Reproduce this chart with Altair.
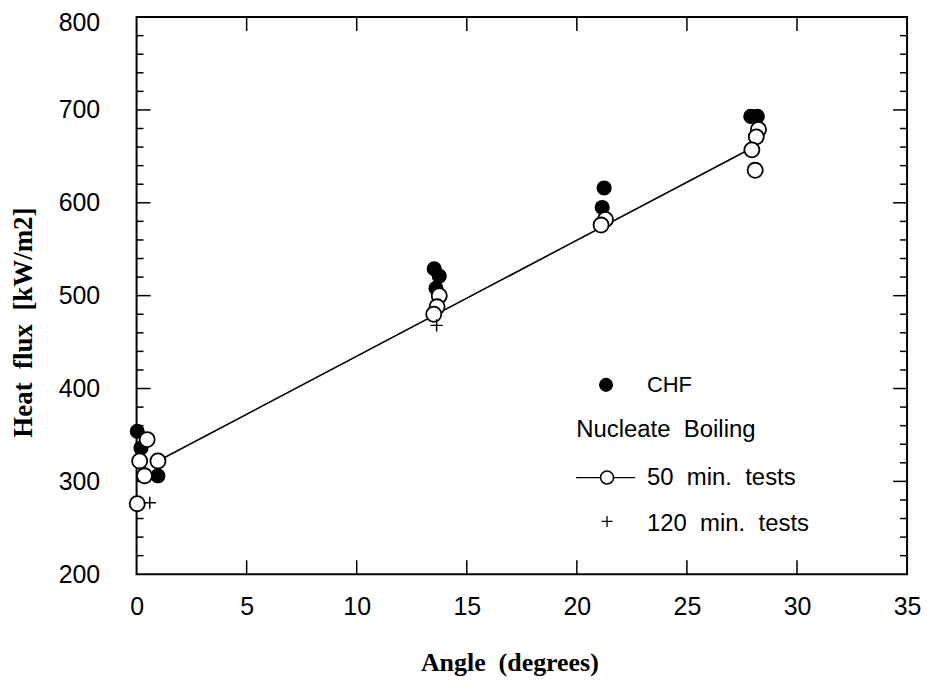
import altair as alt
import pandas as pd

# ---- data ----
chf_x = [0.03, 0.2, 0.97, 13.52, 13.75, 13.6, 21.24, 21.15, 27.9, 28.2]
chf_y = [354, 336, 306, 529, 521, 508, 616, 595, 693, 693]

open_x = [0.48, 0.14, 0.97, 0.36, 0.03, 13.75, 13.65, 13.5, 21.3, 21.1, 28.25, 28.15, 27.95, 28.1]
open_y = [345, 322, 322, 306, 276, 500, 488, 480, 582, 576, 679, 671, 657, 635]

plus_x = [0.6, 13.63]
plus_y = [277, 468]

fit_x = [0.97, 27.95]
fit_y = [322, 659]

x_ticks = [0, 5, 10, 15, 20, 25, 30, 35]
y_ticks = [200, 300, 400, 500, 600, 700, 800]
y_minor = [v for v in range(220, 800, 20) if v % 100 != 0]
y_major = [300, 400, 500, 600, 700]
x_inner = [5, 10, 15, 20, 25, 30]

W, H = 773, 559
LABEL_FONT = "Liberation Sans"
TITLE_FONT = "Liberation Serif"

xs = alt.Scale(domain=[0, 35], nice=False, zero=False)
ys = alt.Scale(domain=[200, 800], nice=False, zero=False)

x_axis = alt.Axis(values=x_ticks, title="Angle\u00a0 (degrees)",
                  titleX=374, titleY=89, titleBaseline="middle", titleAnchor="middle",
                  titleFontSize=26)
y_axis = alt.Axis(values=y_ticks, title="Heat\u00a0 flux\u00a0 [kW/m2]",
                  titleX=-113, titleY=306, titleBaseline="middle", titleAngle=-90,
                  titleAnchor="middle", titleFontSize=27,
                  labelOffset={"condition": {"test": "datum.value == 800", "value": 5}, "value": 0})

df_fit = pd.DataFrame({"x": fit_x, "y": fit_y})
df_chf = pd.DataFrame({"x": chf_x, "y": chf_y})
df_open = pd.DataFrame({"x": open_x, "y": open_y})
df_plus = pd.DataFrame({"x": plus_x, "y": plus_y})

fit = alt.Chart(df_fit).mark_line(color="black", strokeWidth=1.6).encode(
    x=alt.X("x:Q", scale=xs, axis=x_axis),
    y=alt.Y("y:Q", scale=ys, axis=y_axis),
)

chf = alt.Chart(df_chf).mark_point(shape="circle", filled=True, color="black", size=230, opacity=1).encode(
    x=alt.X("x:Q", scale=xs), y=alt.Y("y:Q", scale=ys))

opn = alt.Chart(df_open).mark_point(shape="circle", filled=True, fill="white", stroke="black",
                                     strokeWidth=1.8, size=230, opacity=1).encode(
    x=alt.X("x:Q", scale=xs), y=alt.Y("y:Q", scale=ys))

PLUS = "M-1,0L1,0M0,-1L0,1"
plus = alt.Chart(df_plus).mark_point(shape=PLUS, filled=False, color="black", strokeWidth=1.5,
                                      size=150, opacity=1).encode(
    x=alt.X("x:Q", scale=xs), y=alt.Y("y:Q", scale=ys))

# inward ticks on the frame
df_ymin = pd.DataFrame({"x": 0, "y": y_minor})
df_ymaj = pd.DataFrame({"x": 0, "y": y_major})
df_xin = pd.DataFrame({"x": x_inner, "y": 200})

def yt(df, x0, x1):
    return alt.Chart(df).mark_rule(color="black", strokeWidth=1.5).encode(
        y=alt.Y("y:Q", scale=ys), x=alt.value(x0), x2=alt.value(x1))

def xt(df, y0, y1):
    return alt.Chart(df).mark_rule(color="black", strokeWidth=1.5).encode(
        x=alt.X("x:Q", scale=xs), y=alt.value(y0), y2=alt.value(y1))

ticks = [
    yt(df_ymin, 0, 7), yt(df_ymaj, 0, 14),
    yt(df_ymin, W - 7, W), yt(df_ymaj, W - 14, W),
    xt(df_xin, H - 14, H), xt(df_xin, 0, 14),
]

# legend drawn inside the plot
one = pd.DataFrame({"a": [0]})
def ltext(txt, x, y, size=24):
    return alt.Chart(one).mark_text(align="left", baseline="middle", font=LABEL_FONT,
                                    fontSize=size, color="black", text=txt).encode(
        x=alt.value(x), y=alt.value(y))

leg = [
    alt.Chart(one).mark_point(shape="circle", filled=True, color="black", size=200, opacity=1).encode(
        x=alt.value(471), y=alt.value(369)),
    ltext("CHF", 512, 369, 22),
    ltext("Nucleate\u00a0 Boiling", 441, 414),
    alt.Chart(one).mark_rule(color="black", strokeWidth=1.3).encode(
        x=alt.value(441), x2=alt.value(500), y=alt.value(462)),
    alt.Chart(one).mark_point(shape="circle", filled=True, fill="white", stroke="black",
                              strokeWidth=1.6, size=170, opacity=1).encode(
        x=alt.value(472), y=alt.value(462)),
    ltext("50\u00a0 min.\u00a0 tests", 512, 462),
    alt.Chart(one).mark_point(shape=PLUS, filled=False, color="black", strokeWidth=1.3,
                              size=120, opacity=1).encode(x=alt.value(472), y=alt.value(506)),
    ltext("120\u00a0 min.\u00a0 tests", 512, 509),
]

chart = alt.layer(fit, *ticks, chf, opn, plus, *leg).properties(
    width=W, height=H,
    autosize=alt.AutoSizeParams(type="none"),
    padding={"left": 129, "top": 8, "right": 17, "bottom": 104},
    background="white",
).configure_view(
    stroke="black", strokeWidth=2
).configure_axis(
    ticks=False, domain=False, grid=False, labelFlush=False,
    labelFont=LABEL_FONT, labelFontSize=25, labelColor="black",
    titleFont=TITLE_FONT, titleFontWeight="bold", titleColor="black",
).configure_axisLeft(
    labelPadding=37
).configure_axisBottom(
    labelPadding=20
)

chart.save("out.html", embed_options={"renderer": "svg", "actions": False})
